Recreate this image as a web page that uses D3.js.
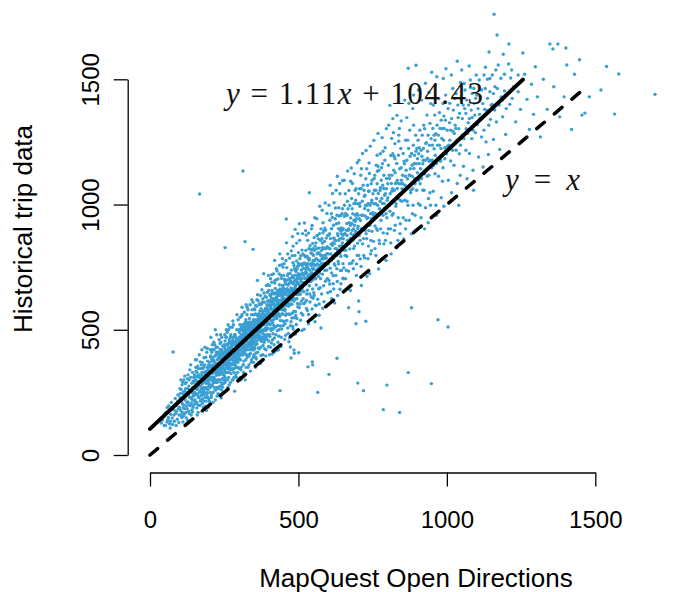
<!DOCTYPE html>
<html>
<head>
<meta charset="utf-8">
<script src="https://cdn.jsdelivr.net/npm/d3@7"></script>
<style>
  body { margin: 0; background: #fff; }
</style>
</head>
<body>
<div id="chart"></div>
<script>
// MapQuest Open Directions (x) vs historical trip data (y)
const trips = [
  [38,128],[45,152],[52,118],[55,171],[60,140],[63,196],[66,125],[70,162],[72,210],[75,148],[78,411],[80,180],[82,135],[85,226],[87,166],[90,198],[92,143],[94,240],[96,185],[98,160],[99,212],[68,108],[88,118],
  [42,140],[48,118],[50,165],[57,132],[58,190],[62,150],[65,178],[69,135],[73,190],[76,122],[81,160],[84,200],[89,175],[93,215],[97,130],
  [101,230],[103,178],[105,262],[107,150],[109,205],[110,290],[112,188],[114,240],[115,162],[117,315],[118,220],[120,265],[122,196],[123,148],[125,248],[126,305],[128,212],[130,175],[131,275],[133,232],[134,340],[136,198],[138,258],[139,160],[141,286],[142,222],[144,245],[145,190],[147,310],[148,268],[149,215],[111,132],[127,138],[143,172],[104,300],[137,360],
  [100,190],[102,245],[104,160],[106,215],[108,280],[109,170],[111,250],[113,200],[114,300],[116,185],[117,255],[119,232],[121,170],[122,290],[124,210],[125,185],[127,265],[128,320],[129,240],[131,200],[132,300],[133,165],[135,260],[136,230],[137,310],[139,208],[140,255],[141,180],[143,330],[144,270],[146,235],[147,200],[148,290],[150,250],[101,265],[113,155],[119,285],[130,250],[140,225],[145,295],
  [151,240],[152,298],[154,205],[155,335],[157,262],[158,188],[160,282],[161,355],[163,230],[164,310],[166,250],[167,1042],[168,198],[169,372],[171,276],[172,238],[174,320],[175,175],[176,295],[178,345],[179,258],[181,215],[182,388],[184,300],[185,268],[187,230],[188,335],[190,285],[191,410],[193,248],[194,312],[196,190],[197,360],[199,275],[153,380],[159,160],[165,290],[170,215],[177,250],[183,330],[186,195],[189,265],[192,350],[195,300],[198,225],[162,318],[173,360],[180,240],[156,312],[185,430],[176,205],[190,178],
  [150,320],[151,270],[152,220],[153,300],[154,350],[155,245],[156,280],[157,210],[158,330],[159,295],[160,240],[161,265],[162,200],[163,345],[164,275],[165,230],[166,320],[167,290],[168,255],[169,310],[170,345],[171,220],[172,300],[173,265],[174,240],[175,330],[176,370],[177,285],[178,225],[179,310],[180,350],[181,270],[182,245],[183,295],[184,360],[185,320],[186,250],[187,290],[188,390],[189,215],[190,330],[191,270],[192,240],[193,300],[194,375],[195,260],[196,340],[197,290],[198,320],[199,350],[200,280],[157,380],[166,400],[175,420],[184,265],[193,425],[200,215],[162,170],[179,190],[195,230],
  [201,330],[202,268],[204,395],[205,300],[206,230],[208,355],[209,420],[210,280],[212,335],[213,250],[215,378],[216,305],[218,440],[219,290],[220,220],[222,362],[223,318],[225,270],[226,405],[228,340],[229,245],[231,385],[232,300],[233,460],[235,350],[236,275],[238,325],[239,410],[241,260],[242,370],[244,305],[245,435],[247,345],[248,285],[249,390],[203,355],[207,312],[211,375],[214,288],[217,345],[221,398],[224,330],[227,290],[230,355],[234,320],[237,395],[240,340],[243,280],[246,365],[250,318],[212,210],[226,235],[240,228],[205,470],[220,500],[238,480],[248,250],[253,828],[228,365],[214,420],[232,265],[244,350],[218,335],[209,345],[236,420],
  [200,310],[201,370],[202,300],[203,250],[204,330],[205,390],[206,350],[207,275],[208,410],[209,300],[210,360],[211,325],[212,390],[213,290],[214,350],[215,310],[216,420],[217,270],[218,370],[219,330],[220,395],[221,300],[222,260],[223,355],[224,410],[225,330],[226,365],[227,430],[228,300],[229,380],[230,320],[231,270],[232,350],[233,400],[234,365],[235,300],[236,445],[237,340],[238,360],[239,290],[240,385],[241,330],[242,420],[243,350],[244,270],[245,375],[246,320],[247,410],[248,360],[249,300],[250,440],[203,420],[207,240],[211,300],[215,450],[219,260],[223,430],[227,380],[231,330],[235,395],[239,450],[243,385],[247,300],[250,370],[204,280],[208,380],[212,355],[216,340],[220,345],[224,290],[228,410],[232,390],[236,325],[240,410],[244,400],[248,330],[225,480],[242,470],[210,440],[233,240],
  [251,400],[252,340],[253,455],[255,375],[256,300],[257,420],[259,360],[260,490],[261,395],[263,330],[264,445],[265,380],[267,280],[268,410],[269,350],[271,470],[272,392],[273,325],[275,430],[276,365],[277,510],[279,405],[280,300],[281,450],[283,380],[284,345],[285,480],[287,415],[288,360],[289,430],[291,310],[292,500],[293,395],[295,440],[296,370],[297,540],[299,420],[300,345],
  [254,420],[258,385],[262,345],[266,430],[270,395],[274,360],[278,440],[282,410],[286,390],[290,455],[294,410],[298,385],[256,470],[262,270],[270,450],[278,345],[286,445],[294,350],[260,410],[266,370],[274,400],[282,375],[290,400],[298,460],[258,440],[272,425],[284,420],[296,420],[264,400],[276,390],[288,470],[300,398],[268,365],[280,420],[292,375],[255,330],[285,255],[298,300],[265,500],[279,535],
  [250,360],[251,430],[252,390],[253,310],[254,375],[255,410],[256,350],[257,470],[258,330],[259,400],[260,365],[261,440],[262,300],[263,390],[264,355],[265,420],[266,330],[267,460],[268,380],[269,420],[270,340],[271,400],[272,360],[273,450],[274,410],[275,380],[276,420],[277,340],[278,390],[279,460],[280,360],[281,410],[282,440],[283,330],[284,400],[285,370],[286,420],[287,480],[288,395],[289,350],[290,430],[291,380],[292,420],[293,460],[294,380],[295,400],[296,450],[297,350],[298,430],[299,390],[300,470],[252,480],[256,395],[260,440],[264,370],[268,450],[272,480],[276,440],[280,470],[284,450],[288,410],[292,440],[296,400],[300,430],[254,360],[258,410],[262,420],[266,395],[270,420],[274,440],[278,410],[282,390],[286,360],[290,380],[294,460],[298,410],[253,290],[259,330],[265,310],[271,290],[277,300],[283,310],[289,320],[295,330],[257,500],[263,520],[269,510],[281,520],[293,560],[299,500],
  [301,450],[302,380],[303,520],[305,420],[306,340],[307,480],[309,400],[310,560],[311,445],[313,360],[314,495],[315,425],[317,320],[318,470],[319,410],[321,530],[322,455],[323,380],[325,500],[326,430],[327,590],[329,465],[330,350],[331,510],[333,440],[334,395],[335,545],[337,475],[338,405],[339,520],[341,370],[342,560],[343,460],[345,500],[346,420],[347,610],[349,480],[350,400],
  [304,470],[308,435],[312,410],[316,490],[320,460],[324,435],[328,505],[332,475],[336,450],[340,490],[344,470],[348,445],[302,440],[310,480],[318,445],[326,470],[334,480],[342,495],[350,520],[306,400],[314,455],[322,420],[330,450],[338,440],[346,465],[313,1134],[320,852],[347,821],[304,310],[321,300],[338,335],[309,555],[327,560],[344,580],[316,375],[332,400],[348,390],[311,500],[325,455],[339,470],[319,520],[336,510],[349,540],
  [300,420],[301,490],[302,460],[303,400],[304,440],[305,500],[306,460],[307,420],[308,510],[309,450],[310,410],[311,470],[312,520],[313,430],[314,400],[315,480],[316,450],[317,510],[318,420],[319,480],[320,430],[321,490],[322,510],[323,470],[324,400],[325,530],[326,460],[327,420],[328,480],[329,520],[330,470],[331,440],[332,500],[333,480],[334,530],[335,450],[336,490],[337,430],[338,500],[339,450],[340,530],[341,480],[342,430],[343,510],[344,440],[345,470],[346,530],[347,490],[348,510],[349,460],[350,480],[302,500],[305,380],[308,470],[311,400],[314,520],[317,440],[320,500],[323,540],[326,500],[329,440],[332,520],[335,480],[338,470],[341,520],[344,500],[347,450],[350,560],[303,460],[307,350],[312,460],[315,360],[319,460],[324,490],[328,390],[331,470],[335,420],[340,460],[343,420],[346,500],[349,420],[304,550],[310,590],[318,570],[324,600],[330,580],[337,600],[343,620],[306,300],[315,330],[324,350],[333,360],[342,380],[349,370],[313,480],[336,530],
  [351,510],[352,430],[353,580],[355,470],[356,390],[357,540],[359,455],[360,620],[361,500],[363,410],[364,555],[365,480],[367,370],[368,525],[369,460],[371,600],[372,510],[373,430],[375,560],[376,490],[377,660],[379,520],[380,400],[381,575],[383,500],[384,450],[385,610],[387,535],[388,460],[389,585],[391,420],[392,630],[393,520],[395,560],[396,480],[397,680],[399,545],[400,455],
  [354,495],[358,520],[362,470],[366,545],[370,495],[374,530],[378,550],[382,520],[386,560],[390,540],[394,505],[398,580],[352,530],[360,560],[368,490],[376,520],[384,540],[392,560],[400,600],[356,440],[364,500],[372,470],[380,530],[388,500],[396,530],[355,350],[372,365],[390,395],[362,640],[378,610],[395,650],[358,480],[370,575],[386,480],[398,505],[366,510],[382,470],[394,600],
  [350,453],[351,537],[352,503],[353,467],[354,533],[355,507],[356,563],[357,477],[358,454],[359,517],[360,493],[361,536],[362,513],[363,557],[364,474],[365,523],[366,477],[367,564],[368,537],[369,503],[370,527],[371,474],[372,553],[373,497],[374,584],[375,517],[376,463],[377,543],[378,497],[379,573],[380,484],[381,527],[382,563],[383,533],[384,497],[385,557],[386,524],[387,577],[388,543],[389,507],[390,574],[391,497],[392,534],[393,587],[394,553],[395,507],[396,573],[397,527],[398,553],[399,597],[400,524],[352,583],[356,597],[360,594],[364,617],[368,604],[372,637],[376,603],[380,624],[384,647],[388,633],[392,677],[396,614],[400,657],[353,424],[357,407],[361,443],[365,427],[369,424],[373,457],[377,453],[381,437],[385,463],[389,467],[393,463],[397,477],[355,534],[363,527],[371,543],[379,547],[387,553],[395,547],[358,383],[374,397],[386,424],[399,433],[362,697],[383,724],[399,717],[367,463],[391,473],
  [401,570],[402,480],[404,640],[405,520],[406,430],[408,600],[409,505],[410,690],[412,555],[413,460],[415,620],[416,540],[418,410],[419,585],[420,510],[422,665],[423,570],[424,480],[426,630],[427,545],[428,735],[430,590],[431,450],[432,645],[434,560],[435,500],[436,680],[438,600],[439,515],[440,655],[442,470],[443,705],[444,580],[446,630],[447,535],[448,750],[450,610],
  [403,563],[407,593],[411,604],[414,577],[417,643],[421,597],[425,594],[429,637],[433,613],[437,644],[441,603],[445,657],[449,637],[405,613],[413,527],[421,557],[429,563],[437,553],[445,603],[403,400],[418,440],[438,257],[433,420],[410,720],[426,700],[444,760],[415,503],[431,517],[447,563],[408,537],[420,687],[435,723],[449,677],
  [400,563],[401,617],[402,544],[403,597],[404,523],[405,584],[406,637],[407,553],[408,497],[409,627],[410,583],[411,537],[412,613],[413,577],[414,647],[415,564],[416,603],[417,517],[418,624],[419,553],[420,597],[421,646],[422,563],[423,617],[424,594],[425,547],[426,583],[427,624],[428,557],[429,604],[430,657],[431,577],[432,603],[433,564],[434,637],[435,593],[436,617],[437,584],[438,663],[439,617],[440,583],[441,647],[442,613],[443,637],[444,563],[445,624],[446,677],[447,604],[448,643],[449,587],[450,653],[402,677],[406,704],[411,657],[416,723],[421,697],[426,744],[431,703],[436,757],[441,717],[446,784],[450,717],[404,473],[409,447],[414,484],[419,467],[424,513],[429,497],[434,474],[439,537],[444,503],[449,517],[407,643],[413,617],[418,604],[423,647],[428,613],[433,657],[439,593],[443,597],[447,664],[412,403],[427,417],[441,433],[420,777],[437,803],
  [451,622],[452,533],[454,697],[455,582],[457,478],[458,661],[459,563],[461,748],[462,612],[464,507],[465,679],[466,595],[468,452],[469,645],[471,561],[472,725],[473,626],[475,532],[476,691],[478,602],[479,796],[481,651],[482,503],[483,712],[485,615],[486,548],[487,745],[489,659],[490,572],[491,718],[493,521],[494,775],[496,641],[497,689],[498,592],[500,808],
  [453,644],[460,613],[467,657],[474,652],[480,688],[488,623],[495,701],[456,598],[463,717],[470,634],[477,663],[484,649],[492,681],[499,654],[459,942],[489,901],[475,387],[485,419],[501,408],[486,406],[473,431],[470,468],[490,483],[462,664],[482,768],[496,743],[457,558],[478,547],
  [450,583],[451,664],[452,617],[453,702],[454,576],[455,643],[456,688],[457,624],[458,597],[459,683],[460,651],[461,604],[462,698],[463,637],[464,606],[465,723],[466,658],[467,615],[468,704],[469,596],[470,686],[471,647],[472,628],[473,695],[474,603],[475,667],[476,738],[477,619],[478,709],[479,655],[480,628],[481,716],[482,684],[483,642],[484,706],[485,757],[486,663],[487,694],[488,668],[489,737],[490,675],[491,646],[492,733],[493,697],[494,662],[495,624],[496,706],[497,753],[498,687],[499,714],[452,764],[458,777],[464,803],[470,786],[476,815],[482,834],[488,797],[494,846],[500,765],[455,523],[461,537],[467,563],[473,516],[479,566],[485,574],[491,557],[497,605],[454,462],[466,485],[481,513],[495,545],[460,847],[480,872],[498,884],[471,703],
  [501,683],[503,588],[504,761],[506,642],[507,538],[509,722],[510,615],[512,818],[513,671],[515,559],[516,745],[518,652],[519,502],[521,705],[522,609],[524,791],[525,683],[527,585],[528,762],[530,658],[531,857],[533,712],[534,561],[536,778],[537,676],[539,611],[540,822],[542,719],[543,632],[545,761],[546,583],[548,845],[549,702],
  [503,923],[537,1047],[532,352],[547,372],[548,360],[505,703],[515,688],[525,733],[535,697],[545,728],[511,763],[520,767],[530,752],[540,693],[550,741],[508,657],[518,604],[528,643],[538,738],[548,663],[526,878],[544,903],[512,497],[534,524],
  [500,724],[501,757],[502,643],[503,706],[504,678],[505,784],[506,717],[507,654],[508,796],[509,693],[510,738],[511,705],[512,664],[513,757],[514,726],[515,803],[516,687],[517,764],[518,716],[519,682],[520,797],[521,763],[522,724],[523,688],[524,745],[525,817],[526,703],[527,758],[528,726],[529,794],[530,706],[531,764],[532,715],[533,786],[534,743],[535,824],[536,717],[537,784],[538,706],[539,836],[540,763],[541,724],[542,806],[543,757],[544,696],[545,818],[546,765],[547,803],[548,746],[549,776],[550,824],[504,857],[514,884],[524,896],[534,886],[546,916],[506,603],[516,624],[527,617],[538,643],[549,626],[510,566],[530,577],[545,543],[520,926],
  [551,763],[552,648],[554,817],[556,703],[557,598],[559,782],[560,679],[562,876],[564,733],[565,622],[567,808],[568,713],[570,558],[572,774],[573,668],[575,857],[576,752],[578,643],[580,828],[581,722],[583,927],[584,784],[586,612],[588,853],[589,737],[591,694],[592,898],[594,787],[596,703],[597,832],[599,648],
  [556,532],[576,507],[565,250],[603,322],[555,757],[563,803],[571,727],[579,784],[587,763],[595,738],[559,724],[567,747],[575,704],[583,796],[591,823],[599,767],[562,943],[580,977],[596,964],[570,603],
  [550,704],[551,797],[552,743],[553,868],[554,776],[555,723],[556,834],[557,757],[558,706],[559,847],[560,784],[561,737],[562,824],[563,763],[564,877],[565,806],[566,744],[567,863],[568,777],[569,826],[570,758],[571,884],[572,803],[573,746],[574,857],[575,797],[576,903],[577,816],[578,764],[579,864],[580,783],[581,846],[582,756],[583,887],[584,823],[585,766],[586,896],[587,827],[588,784],[589,906],[590,797],[592,763],[594,866],[596,804],[598,877],[600,826],[555,947],[572,993],[590,1006],[553,637],[568,664],[585,676],[598,704],[560,597],[582,586],
  [601,803],[603,697],[605,884],[607,746],[608,653],[610,842],[612,727],[614,948],[615,793],[617,684],[619,866],[621,763],[622,607],[624,824],[626,717],[628,923],[629,797],[631,693],[633,876],[634,773],[636,987],[638,834],[640,662],[641,897],[643,793],[645,737],[647,963],[648,847],[650,764],
  [630,386],[606,823],[616,847],[626,804],[636,857],[646,826],[611,904],[623,857],[635,763],[644,884],[620,1007],[640,1043],[612,624],[632,637],
  [600,763],[602,877],[604,826],[606,937],[608,864],[610,776],[612,903],[614,837],[616,784],[618,917],[620,866],[622,797],[624,943],[626,856],[628,824],[630,957],[632,884],[634,817],[636,926],[638,863],[640,804],[642,956],[644,907],[646,836],[648,983],[650,877],[603,997],[615,1044],[627,1057],[639,1084],[649,1096],[605,683],[617,716],[629,744],[641,737],[650,706],[609,803],[621,844],[633,817],[645,866],[611,963],[625,986],[637,954],[647,897],[619,663],[643,684],[607,1077],[631,1113],[623,757],[635,904],
  [651,863],[653,747],[655,953],[657,797],[659,704],[661,897],[663,793],[665,1013],[667,846],[669,734],[671,927],[673,823],[675,657],[677,884],[679,766],[681,983],[683,857],[685,744],[687,937],[689,834],[691,1057],[693,893],[695,717],[697,963],[699,846],
  [669,588],[694,524],[700,287],[703,615],[704,572],[656,884],[668,897],[680,924],[692,933],[660,817],[674,864],[686,903],[698,797],[664,957],[690,1004],[676,1093],
  [651,904],[653,817],[655,997],[657,883],[659,964],[661,836],[663,924],[665,857],[667,983],[669,903],[671,844],[673,996],[675,917],[677,866],[679,1024],[681,897],[683,963],[685,877],[687,1004],[689,917],[691,884],[693,1017],[695,943],[697,876],[699,1003],[654,1097],[666,1134],[678,1146],[688,1123],[698,1167],[652,703],[662,737],[672,764],[684,776],[696,763],[658,1043],[670,1056],[682,1084],[694,1063],[660,797],[686,824],[664,877],[676,946],[692,957],[700,904],
  [701,913],[703,797],[706,1004],[708,857],[711,753],[713,957],[716,843],[718,1077],[721,903],[723,787],[726,997],[728,884],[731,713],[733,947],[736,834],[738,1053],[741,917],[743,803],[746,1007],[748,893],
  [719,257],[727,534],[705,943],[715,897],[725,954],[735,977],[745,943],[710,1117],[730,1143],[712,677],[740,724],[722,1033],[744,857],
  [701,957],[703,1043],[705,877],[707,993],[709,936],[711,1064],[713,904],[715,1013],[717,957],[719,864],[721,1057],[723,984],[725,897],[727,1103],[729,996],[731,944],[733,1077],[735,1004],[737,896],[739,1124],[741,997],[743,963],[745,1083],[747,1017],[749,944],[704,1177],[716,1204],[728,1216],[742,1233],[708,783],[720,797],[734,784],[746,816],[712,1143],[738,1166],[706,1063],[724,1037],[736,1054],[748,1097],[730,864],
  [751,967],[753,853],[756,1057],[758,914],[761,797],[763,1024],[766,897],[768,1153],[771,957],[773,844],[776,1067],[778,937],[781,783],[783,1004],[786,887],[788,1117],[791,983],[793,857],[796,1063],[798,947],
  [798,279],[786,181],[760,1003],[775,1013],[790,1037],[765,1197],[785,1213],[770,743],[795,777],[755,1104],[780,1147],
  [751,1043],[753,957],[755,1003],[757,1117],[759,964],[761,1057],[763,904],[765,1083],[767,997],[769,1044],[771,1137],[773,983],[775,1056],[777,903],[779,1097],[781,1024],[783,1163],[785,957],[787,1064],[789,1004],[791,1177],[793,1043],[795,963],[797,1104],[799,1017],[754,1256],[768,1284],[782,1267],[796,1303],[758,824],[772,857],[788,843],[799,884],[762,1157],[776,1203],[792,1227],[766,1133],[784,1077],
  [801,1027],[803,903],[806,1117],[808,973],[811,847],[813,1084],[816,957],[818,1203],[821,1013],[823,897],[826,1127],[828,993],[831,827],[833,1064],[836,947],[838,1253],[841,1037],[843,923],[846,1147],[848,1013],
  [808,1396],[841,170],[815,1053],[830,1087],[845,1083],[820,1287],[840,1304],[812,803],[835,857],[825,1183],
  [801,1083],[803,1157],[805,997],[807,1104],[809,1043],[811,1196],[813,1004],[815,1117],[817,1063],[819,964],[821,1137],[823,1057],[825,1243],[827,1084],[829,1003],[831,1164],[833,1097],[835,1024],[837,1197],[839,1083],[841,1143],[843,1017],[845,1224],[847,1097],[849,1063],[804,1317],[818,1343],[832,1356],[846,1334],[810,903],[826,917],[842,884],[814,1264],[838,1277],[822,1193],
  [851,1083],[853,947],[856,1173],[858,1017],[861,903],[863,1137],[866,1013],[868,1257],[871,1073],[873,937],[876,1193],[878,1047],[881,883],[883,1113],[886,997],[888,1317],[891,1103],[893,957],[896,1213],[898,1057],
  [881,588],[870,329],[896,1556],[870,1544],[860,1113],[875,1117],[890,1164],[865,1347],[885,1383],[855,863],[895,897],
  [851,1117],[853,1204],[855,1057],[857,1163],[859,1077],[861,1257],[863,1064],[865,1177],[867,1103],[869,997],[871,1224],[873,1117],[875,1297],[877,1143],[879,1057],[881,1204],[883,1157],[885,1063],[887,1237],[889,1144],[891,1197],[893,1083],[895,1277],[897,1163],[899,1224],[858,1417],[872,1404],[888,1437],[862,937],[884,963],
  [901,1127],[904,1003],[907,1227],[910,1083],[913,947],[916,1193],[919,1057],[922,1317],[925,1123],[928,987],[931,1247],[934,1113],[937,927],[940,1173],[943,1047],[946,1403],[949,1147],
  [949,1528],[948,285],[905,1203],[920,1177],[935,1213],[915,1417],[940,1447],[925,903],[945,997],
  [901,1183],[903,1257],[905,1097],[907,1164],[909,1297],[911,1143],[913,1217],[915,1104],[917,1277],[919,1163],[921,1224],[923,1057],[925,1303],[927,1177],[929,1244],[931,1137],[933,1357],[935,1184],[937,1277],[939,1117],[941,1237],[943,1324],[945,1177],[947,1263],[904,1457],[928,1484],[910,997],[938,1024],
  [951,1177],[954,1053],[957,1277],[960,1123],[963,997],[966,1510],[969,1237],[972,1113],[975,1367],[978,1173],[981,1027],[984,1303],[987,1147],[990,993],[993,1227],[996,1437],[999,1203],
  [970,540],[997,1542],[960,1257],[980,1224],[955,1397],[990,1353],[965,957],[985,1093],
  [951,1237],[953,1304],[955,1157],[957,1223],[959,1357],[961,1197],[963,1283],[965,1164],[967,1317],[969,1184],[971,1277],[973,1423],[975,1237],[977,1304],[979,1177],[981,1337],[983,1264],[985,1197],[987,1403],[989,1257],[991,1304],[993,1183],[995,1337],[962,1477],[988,1503],
  [1002,1233],[1005,1097],[1009,1327],[1013,1174],[1016,1047],[1020,1293],[1024,1157],[1027,1423],[1031,1217],[1035,1084],[1038,1347],[1042,1203],[1046,1487],[1049,1264],
  [1004,511],[1035,1572],[1010,1257],[1030,1304],[1045,1117],[1020,1463],[1040,997],
  [1052,1277],[1056,1153],[1060,1383],[1064,1217],[1068,1103],[1072,1327],[1076,1204],[1080,1467],[1084,1263],[1088,1137],[1092,1404],[1096,1287],[1099,1517],
  [1065,1303],[1085,1347],[1058,1483],[1090,1057],[1075,1553],
  [1001,1297],[1004,1383],[1007,1237],[1010,1404],[1013,1297],[1016,1343],[1019,1217],[1022,1377],[1025,1284],[1028,1317],[1031,1443],[1034,1257],[1037,1397],[1040,1303],[1043,1364],[1046,1237],[1049,1417],[1052,1343],[1055,1397],[1058,1263],[1061,1457],[1064,1364],[1067,1417],[1070,1284],[1073,1397],[1076,1343],[1079,1497],[1082,1377],[1085,1443],[1088,1297],[1091,1463],[1094,1357],[1097,1424],[1015,1517],[1050,1537],
  [1102,1320],[1107,1190],[1112,1430],[1117,1270],[1122,1150],[1127,1380],[1132,1250],[1137,1500],[1142,1609],[1147,1340],
  [1125,1517],[1130,1548],[1110,1360],[1140,1200],[1145,1450],
  [1152,1400],[1157,1260],[1162,1470],[1167,1330],[1173,1557],[1178,1220],[1183,1430],[1188,1350],[1194,1520],[1198,1280],
  [1159,1760],[1169,1677],[1190,1600],
  [1101,1437],[1105,1383],[1109,1497],[1113,1344],[1117,1457],[1121,1403],[1125,1297],[1129,1463],[1133,1377],[1137,1424],[1141,1317],[1145,1503],[1149,1397],[1153,1517],[1157,1443],[1161,1377],[1165,1537],[1170,1463],[1176,1397],[1182,1504],[1188,1417],[1194,1453],[1200,1383],[1220,1424],[1240,1517],
  [1208,1561],[1209,1641],[1215,1505],[1218,1537],[1212,1400],[1225,1470],[1232,1330],[1240,1450],[1248,1380],[1256,1605],[1262,1520],[1270,1420],[1278,1300],[1285,1480],[1292,1360],[1298,1550],
  [1305,1430],[1315,1270],[1325,1500],[1338,1380],[1347,1641],[1357,1621],[1374,1641],[1401,1625],[1404,1557],[1360,1470],[1380,1350],[1395,1430],[1420,1300],[1447,1578],[1455,1357],[1465,1365],[1519,1457],[1538,1551],[1565,1361],[1579,1521],[1701,1440],[1430,1520],[1480,1430]
];

const xTicks = [0, 500, 1000, 1500];
const yTicks = [0, 500, 1000, 1500];

// least squares fit shown on the plot, and the y = x reference line
const fitSlope = 1.11;
const fitIntercept = 104.43;
const fitXRange = [0, 1256];
const identityXRange = [0, 1475];

const width = 678;
const height = 592;
const sans = "'Liberation Sans', Arial, Helvetica, sans-serif";
const serif = "'Liberation Serif', 'DejaVu Serif', serif";

const svg = d3.select("#chart").append("svg")
  .attr("width", width)
  .attr("height", height)
  .style("background", "#fff");

const x = d3.scaleLinear().domain([0, 1500]).range([150, 595.3]);
const y = d3.scaleLinear().domain([0, 1500]).range([455, 79.3]);

// points
svg.append("g")
  .selectAll("circle")
  .data(trips)
  .enter()
  .append("circle")
  .attr("cx", d => x(d[0]))
  .attr("cy", d => y(d[1]))
  .attr("r", 1.7)
  .attr("fill", "#399ed2");

// y = x dashed
svg.append("line")
  .attr("x1", x(identityXRange[0]))
  .attr("y1", y(identityXRange[0]))
  .attr("x2", x(identityXRange[1]))
  .attr("y2", y(identityXRange[1]))
  .attr("stroke", "#000")
  .attr("stroke-width", 3.5)
  .attr("stroke-linecap", "round")
  .attr("stroke-dasharray", "10,13");

// fitted line
svg.append("line")
  .attr("x1", x(fitXRange[0]))
  .attr("y1", y(fitSlope * fitXRange[0] + fitIntercept))
  .attr("x2", x(fitXRange[1]))
  .attr("y2", y(fitSlope * fitXRange[1] + fitIntercept))
  .attr("stroke", "#000")
  .attr("stroke-width", 4)
  .attr("stroke-linecap", "round");

// axes, R style: line only spans the ticks
const xAxis = svg.append("g")
  .attr("transform", "translate(0,472.5)")
  .call(d3.axisBottom(x).tickValues(xTicks).tickSize(14).tickSizeOuter(0).tickFormat(d3.format("d")));

const yAxis = svg.append("g")
  .attr("transform", "translate(127.7,0)")
  .call(d3.axisLeft(y).tickValues(yTicks).tickSize(14).tickSizeOuter(0).tickFormat(d3.format("d")));

[xAxis, yAxis].forEach(g => {
  g.attr("font-family", sans);
  g.select(".domain").attr("stroke", "#000").attr("stroke-width", 1.3);
  g.selectAll(".tick line").attr("stroke", "#000").attr("stroke-width", 1.3);
  g.selectAll("text")
    .attr("font-family", sans)
    .attr("font-size", 24)
    .attr("fill", "#000");
});

xAxis.selectAll("text").attr("y", 55.5).attr("dy", 0);
yAxis.selectAll("text")
  .attr("x", 0).attr("dy", 0)
  .attr("text-anchor", "middle")
  .attr("transform", "translate(-29,0) rotate(-90)");

// axis titles
svg.append("text")
  .attr("x", 416)
  .attr("y", 587)
  .attr("text-anchor", "middle")
  .attr("font-family", sans)
  .attr("font-size", 26)
  .text("MapQuest Open Directions");

svg.append("text")
  .attr("transform", "translate(32,229) rotate(-90)")
  .attr("text-anchor", "middle")
  .attr("font-family", sans)
  .attr("font-size", 26)
  .text("Historical trip data");

// equation labels
const eq = svg.append("text")
  .attr("x", 226)
  .attr("y", 104)
  .attr("font-family", serif)
  .attr("font-size", 31)
  .attr("fill", "#111")
  .attr("textLength", 257)
  .attr("lengthAdjust", "spacing");
eq.append("tspan").attr("font-style", "italic").text("y");
eq.append("tspan").text(" = 1.11");
eq.append("tspan").attr("font-style", "italic").text("x");
eq.append("tspan").text(" + 104.43");

const idLabel = svg.append("text")
  .attr("x", 505)
  .attr("y", 190)
  .attr("font-family", serif)
  .attr("font-size", 31)
  .attr("fill", "#111")
  .attr("textLength", 75)
  .attr("lengthAdjust", "spacing");
idLabel.append("tspan").attr("font-style", "italic").text("y");
idLabel.append("tspan").text(" = ");
idLabel.append("tspan").attr("font-style", "italic").text("x");
</script>
</body>
</html>
